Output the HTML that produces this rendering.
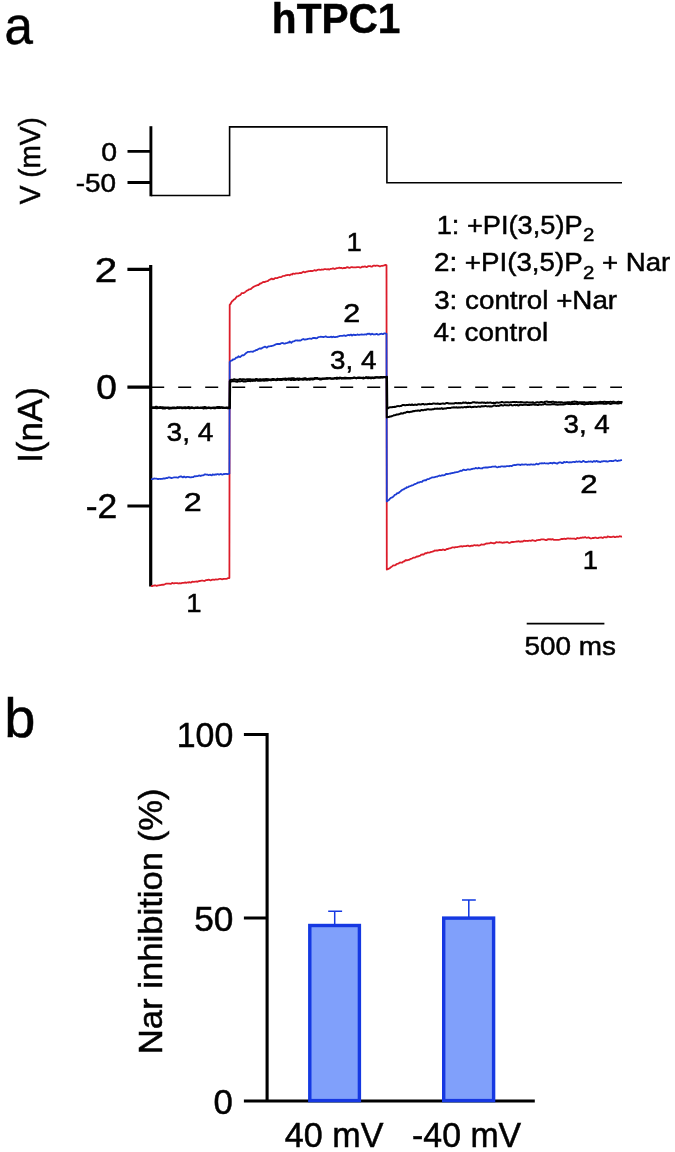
<!DOCTYPE html>
<html><head><meta charset="utf-8"><title>hTPC1</title>
<style>
html,body{margin:0;padding:0;background:#fff;}
svg{display:block;}
text{font-family:"Liberation Sans",Arial,Helvetica,sans-serif;fill:#000;stroke:#000;stroke-width:0.5;}
</style></head><body>
<svg width="675" height="1152" viewBox="0 0 675 1152">
<rect width="675" height="1152" fill="#fff"/>
<defs><filter id="soft" x="0" y="0" width="675" height="1152" filterUnits="userSpaceOnUse"><feGaussianBlur stdDeviation="0.4"/></filter></defs>
<g filter="url(#soft)">

<!-- voltage protocol -->
<g stroke="#000" fill="none">
<path d="M150.9 126.2V196.3" stroke-width="2.9"/>
<path d="M127.5 151.4H151M127.5 182.5H151" stroke-width="2.9"/>
<path d="M150.9 195.5H229.6V126.9H386.9V182.7H622" stroke-width="1.6"/>
</g>

<!-- current axis -->
<g stroke="#000" fill="none" stroke-width="3.2">
<path d="M150.7 265V586.5"/>
<path d="M127.4 269.3H151M127.4 387.2H151M127.4 506H151"/>
</g>
<path d="M151.2 387.2H622" stroke="#000" stroke-width="1.4" stroke-dasharray="13 14" fill="none"/>

<!-- traces -->
<g fill="none" stroke-linejoin="round" stroke-width="1.8">
<polyline stroke="#dc1f2b" points="151.0,586.2 151.8,586.1 152.6,586.0 153.4,585.7 154.2,585.5 155.0,585.4 155.8,585.4 156.6,585.9 157.4,585.7 158.2,585.3 159.0,585.3 159.8,585.2 160.6,585.1 161.4,584.8 162.2,584.7 163.0,584.9 163.8,584.6 164.6,584.3 165.4,584.0 166.2,583.6 167.0,583.6 167.8,583.7 168.6,583.6 169.4,583.7 170.2,583.8 171.0,583.8 171.8,583.1 172.6,583.0 173.4,583.4 174.2,583.4 175.0,583.1 175.8,583.1 176.6,583.2 177.4,583.1 178.2,583.5 179.0,583.3 179.8,583.2 180.6,583.4 181.4,583.3 182.2,582.9 183.0,582.9 183.8,582.9 184.6,582.6 185.4,582.4 186.2,582.9 187.0,582.5 187.8,582.3 188.6,582.6 189.4,582.1 190.2,582.4 191.0,582.6 191.8,581.9 192.6,581.7 193.4,581.9 194.2,581.8 195.0,581.7 195.8,581.6 196.6,581.5 197.4,581.8 198.2,581.4 199.0,581.1 199.8,581.0 200.6,580.9 201.4,580.7 202.2,580.5 203.0,580.7 203.8,580.8 204.6,581.0 205.4,580.5 206.2,580.0 207.0,580.2 207.8,579.9 208.6,579.7 209.4,579.9 210.2,580.3 211.0,580.3 211.8,579.9 212.6,579.6 213.4,579.6 214.2,579.8 215.0,579.7 215.8,579.3 216.6,579.5 217.4,579.5 218.2,579.3 219.0,579.0 219.8,578.8 220.6,578.9 221.4,579.1 222.2,579.3 223.0,579.0 223.8,578.9 224.6,578.9 225.4,578.9 226.2,578.8 227.0,578.6 227.8,578.2 228.6,578.1 229.4,578.0 229.7,304.8 230.5,304.0 231.3,302.5 232.1,301.3 232.9,300.7 233.7,299.8 234.5,299.3 235.3,298.8 236.1,297.6 236.9,296.3 237.7,296.3 238.5,296.0 239.3,295.4 240.1,295.1 240.9,294.3 241.7,293.1 242.5,293.2 243.3,293.2 244.1,292.7 244.9,292.2 245.7,291.6 246.5,290.9 247.3,290.5 248.1,290.2 248.9,289.3 249.7,289.3 250.5,289.2 251.3,288.7 252.1,287.9 252.9,287.3 253.7,286.7 254.5,286.3 255.3,286.0 256.1,285.7 256.9,285.3 257.7,285.0 258.5,285.0 259.3,284.2 260.1,283.5 260.9,283.5 261.7,283.0 262.5,282.4 263.3,282.0 264.1,282.1 264.9,282.0 265.7,281.5 266.5,281.3 267.3,281.2 268.1,280.9 268.9,280.0 269.7,279.7 270.5,279.5 271.3,278.7 272.1,278.7 272.9,279.3 273.7,279.2 274.5,278.5 275.3,278.0 276.1,278.2 276.9,278.1 277.7,277.8 278.5,277.5 279.3,277.2 280.1,277.1 280.9,277.1 281.7,276.7 282.5,276.2 283.3,276.0 284.1,275.8 284.9,275.8 285.7,275.4 286.5,275.1 287.3,275.1 288.1,274.8 288.9,275.0 289.7,275.3 290.5,274.6 291.3,274.3 292.1,274.5 292.9,273.7 293.7,273.6 294.5,273.9 295.3,273.7 296.1,273.4 296.9,273.3 297.7,273.3 298.5,273.3 299.3,273.2 300.1,272.8 300.9,273.1 301.7,272.8 302.5,272.2 303.3,271.7 304.1,272.0 304.9,272.4 305.7,272.0 306.5,271.7 307.3,271.5 308.1,271.4 308.9,271.2 309.7,271.1 310.5,270.9 311.3,271.0 312.1,271.1 312.9,270.8 313.7,270.5 314.5,270.1 315.3,270.5 316.1,270.6 316.9,270.2 317.7,269.9 318.5,269.7 319.3,269.6 320.1,269.9 320.9,269.8 321.7,269.5 322.5,269.6 323.3,269.6 324.1,269.2 324.9,269.2 325.7,269.2 326.5,269.3 327.3,269.3 328.1,269.1 328.9,269.6 329.7,269.3 330.5,268.9 331.3,268.8 332.1,268.7 332.9,268.4 333.7,268.5 334.5,269.0 335.3,268.8 336.1,268.4 336.9,268.1 337.7,268.2 338.5,268.0 339.3,267.6 340.1,268.0 340.9,267.9 341.7,267.9 342.5,268.4 343.3,268.2 344.1,267.9 344.9,268.2 345.7,267.9 346.5,267.4 347.3,267.1 348.1,267.3 348.9,267.8 349.7,267.9 350.5,267.5 351.3,267.1 352.1,267.1 352.9,267.3 353.7,267.3 354.5,267.3 355.3,267.4 356.1,267.3 356.9,267.2 357.7,267.2 358.5,267.2 359.3,267.2 360.1,267.6 360.9,267.6 361.7,267.1 362.5,266.6 363.3,266.8 364.1,266.7 364.9,266.3 365.7,266.7 366.5,267.1 367.3,266.9 368.1,266.2 368.9,266.1 369.7,266.1 370.5,266.2 371.3,266.7 372.1,266.6 372.9,265.9 373.7,265.6 374.5,265.7 375.3,266.0 376.1,265.7 376.9,265.7 377.7,265.7 378.5,265.8 379.3,266.3 380.1,266.3 380.9,266.0 381.7,265.8 382.5,265.8 383.3,265.6 384.1,265.4 384.9,265.1 385.7,264.8 386.5,265.2 386.8,569.5 387.6,569.3 388.4,568.9 389.2,568.4 390.0,568.0 390.8,567.2 391.6,566.7 392.4,566.1 393.2,565.3 394.0,565.3 394.8,565.3 395.6,565.0 396.4,564.3 397.2,563.8 398.0,563.7 398.8,563.4 399.6,562.6 400.4,562.5 401.2,562.7 402.0,562.7 402.8,562.0 403.6,561.4 404.4,561.3 405.2,560.5 406.0,560.0 406.8,560.4 407.6,560.2 408.4,559.9 409.2,559.8 410.0,559.2 410.8,558.8 411.6,558.6 412.4,558.2 413.2,557.7 414.0,557.7 414.8,557.7 415.6,557.3 416.4,556.6 417.2,556.4 418.0,556.5 418.8,556.1 419.6,555.9 420.4,555.4 421.2,554.7 422.0,554.5 422.8,554.5 423.6,554.6 424.4,553.9 425.2,553.2 426.0,553.4 426.8,553.1 427.6,552.5 428.4,552.7 429.2,552.7 430.0,552.4 430.8,552.0 431.6,551.9 432.4,551.7 433.2,551.4 434.0,551.1 434.8,550.5 435.6,550.6 436.4,550.5 437.2,550.5 438.0,550.6 438.8,550.1 439.6,550.0 440.4,550.0 441.2,550.1 442.0,550.0 442.8,549.5 443.6,549.6 444.4,550.0 445.2,550.1 446.0,549.5 446.8,549.0 447.6,549.0 448.4,548.9 449.2,548.3 450.0,548.3 450.8,548.2 451.6,547.8 452.4,547.4 453.2,547.3 454.0,547.5 454.8,547.5 455.6,547.2 456.4,547.2 457.2,547.2 458.0,546.8 458.8,546.7 459.6,546.5 460.4,546.4 461.2,546.2 462.0,546.5 462.8,546.6 463.6,546.1 464.4,546.1 465.2,546.1 466.0,546.2 466.8,545.9 467.6,545.6 468.4,545.7 469.2,546.2 470.0,546.4 470.8,545.8 471.6,545.6 472.4,545.9 473.2,545.7 474.0,545.1 474.8,545.2 475.6,545.5 476.4,545.3 477.2,545.2 478.0,545.4 478.8,545.7 479.6,545.3 480.4,545.1 481.2,544.5 482.0,544.5 482.8,544.7 483.6,544.5 484.4,544.6 485.2,544.1 486.0,543.6 486.8,543.5 487.6,543.5 488.4,543.3 489.2,543.3 490.0,543.1 490.8,542.6 491.6,542.8 492.4,543.1 493.2,543.1 494.0,543.5 494.8,543.2 495.6,542.5 496.4,542.2 497.2,542.3 498.0,542.3 498.8,542.5 499.6,542.2 500.4,542.4 501.2,542.5 502.0,542.6 502.8,542.8 503.6,542.5 504.4,542.5 505.2,542.4 506.0,542.3 506.8,542.1 507.6,542.1 508.4,542.7 509.2,543.0 510.0,542.8 510.8,542.4 511.6,542.0 512.4,542.0 513.2,542.0 514.0,541.9 514.8,541.8 515.6,541.7 516.4,541.5 517.2,541.5 518.0,541.4 518.8,541.2 519.6,541.7 520.4,541.8 521.2,541.4 522.0,541.5 522.8,541.5 523.6,540.9 524.4,540.6 525.2,540.9 526.0,541.0 526.8,540.8 527.6,541.0 528.4,540.9 529.2,540.7 530.0,540.6 530.8,540.8 531.6,540.6 532.4,540.1 533.2,540.4 534.0,540.6 534.8,540.8 535.6,541.0 536.4,540.4 537.2,540.1 538.0,540.2 538.8,539.8 539.6,540.0 540.4,539.9 541.2,539.3 542.0,539.4 542.8,539.4 543.6,539.3 544.4,539.7 545.2,539.8 546.0,540.1 546.8,540.0 547.6,539.3 548.4,539.2 549.2,539.3 550.0,539.1 550.8,539.5 551.6,539.6 552.4,539.1 553.2,539.4 554.0,539.9 554.8,539.8 555.6,539.8 556.4,539.9 557.2,539.8 558.0,539.8 558.8,539.8 559.6,539.7 560.4,539.5 561.2,539.0 562.0,538.9 562.8,539.0 563.6,538.9 564.4,538.6 565.2,538.8 566.0,539.1 566.8,538.6 567.6,538.3 568.4,538.4 569.2,538.7 570.0,538.5 570.8,538.6 571.6,538.6 572.4,538.7 573.2,538.7 574.0,538.5 574.8,538.7 575.6,539.2 576.4,538.7 577.2,538.0 578.0,538.1 578.8,538.3 579.6,538.1 580.4,537.7 581.2,537.8 582.0,537.6 582.8,537.5 583.6,537.6 584.4,537.3 585.2,537.1 586.0,537.5 586.8,537.8 587.6,537.7 588.4,537.4 589.2,537.6 590.0,538.2 590.8,538.5 591.6,538.3 592.4,538.0 593.2,538.0 594.0,538.0 594.8,537.7 595.6,537.5 596.4,537.9 597.2,538.1 598.0,538.1 598.8,537.7 599.6,537.6 600.4,537.5 601.2,537.3 602.0,537.8 602.8,538.0 603.6,537.4 604.4,537.1 605.2,537.2 606.0,537.5 606.8,537.3 607.6,536.5 608.4,536.6 609.2,536.9 610.0,537.0 610.8,537.1 611.6,537.0 612.4,536.8 613.2,536.5 614.0,536.7 614.8,537.2 615.6,537.1 616.4,536.7 617.2,536.6 618.0,536.8 618.8,536.6 619.6,536.2 620.4,536.4 621.2,536.6 622.0,536.5"/>
<polyline stroke="#1f3cd4" points="151.0,479.2 151.8,479.2 152.6,479.2 153.4,478.7 154.2,478.5 155.0,478.6 155.8,478.6 156.6,478.7 157.4,479.0 158.2,479.1 159.0,478.8 159.8,478.8 160.6,479.0 161.4,478.9 162.2,478.9 163.0,478.7 163.8,478.3 164.6,478.6 165.4,478.3 166.2,478.0 167.0,478.1 167.8,477.8 168.6,477.4 169.4,477.3 170.2,477.6 171.0,478.0 171.8,478.0 172.6,477.8 173.4,477.5 174.2,477.3 175.0,477.3 175.8,477.3 176.6,477.3 177.4,477.7 178.2,477.6 179.0,476.8 179.8,476.6 180.6,476.5 181.4,476.5 182.2,477.1 183.0,477.4 183.8,476.7 184.6,476.6 185.4,477.4 186.2,477.3 187.0,476.9 187.8,476.8 188.6,477.0 189.4,477.1 190.2,477.4 191.0,477.3 191.8,477.1 192.6,477.1 193.4,477.0 194.2,476.4 195.0,476.2 195.8,476.3 196.6,476.1 197.4,476.1 198.2,475.9 199.0,475.5 199.8,475.6 200.6,476.0 201.4,475.6 202.2,475.4 203.0,475.4 203.8,475.2 204.6,474.4 205.4,474.3 206.2,474.7 207.0,474.5 207.8,474.7 208.6,475.2 209.4,475.0 210.2,474.6 211.0,475.2 211.8,475.3 212.6,474.5 213.4,474.6 214.2,474.9 215.0,474.5 215.8,474.5 216.6,474.6 217.4,474.1 218.2,474.2 219.0,474.6 219.8,474.3 220.6,474.0 221.4,474.1 222.2,474.7 223.0,474.5 223.8,473.9 224.6,474.1 225.4,473.8 226.2,473.9 227.0,474.0 227.8,474.1 228.6,473.9 229.4,473.4 229.7,362.1 230.5,361.0 231.3,360.6 232.1,360.3 232.9,359.4 233.7,359.5 234.5,359.2 235.3,358.6 236.1,357.7 236.9,357.5 237.7,357.4 238.5,356.3 239.3,356.7 240.1,357.1 240.9,356.4 241.7,355.6 242.5,355.2 243.3,355.4 244.1,354.9 244.9,354.2 245.7,353.3 246.5,352.9 247.3,352.3 248.1,351.8 248.9,351.9 249.7,351.8 250.5,351.7 251.3,351.6 252.1,351.7 252.9,351.8 253.7,351.2 254.5,351.0 255.3,350.6 256.1,350.0 256.9,350.1 257.7,349.5 258.5,349.0 259.3,348.7 260.1,348.4 260.9,348.8 261.7,348.4 262.5,347.7 263.3,347.5 264.1,347.0 264.9,346.7 265.7,346.9 266.5,347.7 267.3,347.4 268.1,346.5 268.9,346.4 269.7,346.3 270.5,346.2 271.3,346.1 272.1,345.8 272.9,345.7 273.7,345.4 274.5,345.0 275.3,344.6 276.1,344.2 276.9,344.0 277.7,343.9 278.5,344.0 279.3,343.9 280.1,344.0 280.9,343.4 281.7,343.1 282.5,343.0 283.3,343.2 284.1,343.7 284.9,343.6 285.7,343.2 286.5,343.2 287.3,342.9 288.1,342.5 288.9,342.6 289.7,341.5 290.5,342.1 291.3,342.8 292.1,341.9 292.9,341.4 293.7,341.3 294.5,341.1 295.3,340.6 296.1,340.3 296.9,340.5 297.7,340.5 298.5,340.6 299.3,340.5 300.1,340.6 300.9,340.4 301.7,339.7 302.5,339.3 303.3,339.0 304.1,339.5 304.9,339.6 305.7,339.3 306.5,339.4 307.3,339.1 308.1,338.8 308.9,338.7 309.7,338.5 310.5,338.7 311.3,338.9 312.1,338.4 312.9,337.9 313.7,338.0 314.5,338.0 315.3,337.9 316.1,338.4 316.9,338.2 317.7,337.5 318.5,337.2 319.3,337.0 320.1,336.8 320.9,336.7 321.7,336.8 322.5,336.8 323.3,337.1 324.1,336.9 324.9,336.7 325.7,336.4 326.5,336.8 327.3,337.2 328.1,337.1 328.9,337.2 329.7,337.2 330.5,336.8 331.3,336.6 332.1,337.3 332.9,336.9 333.7,336.7 334.5,337.2 335.3,337.2 336.1,336.8 336.9,337.0 337.7,336.6 338.5,336.3 339.3,336.2 340.1,335.8 340.9,335.8 341.7,335.8 342.5,335.9 343.3,335.7 344.1,335.3 344.9,335.6 345.7,336.0 346.5,335.7 347.3,335.2 348.1,335.0 348.9,335.1 349.7,335.3 350.5,334.6 351.3,334.6 352.1,335.6 352.9,335.1 353.7,334.6 354.5,335.0 355.3,334.9 356.1,335.0 356.9,334.8 357.7,334.4 358.5,334.9 359.3,334.8 360.1,334.6 360.9,334.6 361.7,334.4 362.5,334.7 363.3,334.7 364.1,334.6 364.9,334.4 365.7,334.3 366.5,334.6 367.3,333.8 368.1,333.7 368.9,334.0 369.7,333.7 370.5,334.5 371.3,334.4 372.1,333.7 372.9,334.2 373.7,334.5 374.5,334.4 375.3,334.4 376.1,333.9 376.9,334.0 377.7,334.5 378.5,334.6 379.3,334.4 380.1,334.0 380.9,333.9 381.7,333.7 382.5,334.1 383.3,334.1 384.1,333.3 384.9,333.3 385.7,333.6 386.5,333.8 386.8,501.4 387.6,500.9 388.4,500.3 389.2,499.8 390.0,498.6 390.8,497.9 391.6,497.7 392.4,497.2 393.2,496.7 394.0,495.8 394.8,494.8 395.6,494.7 396.4,494.3 397.2,493.1 398.0,493.1 398.8,492.8 399.6,491.9 400.4,491.4 401.2,490.7 402.0,490.0 402.8,489.7 403.6,489.5 404.4,488.8 405.2,488.3 406.0,488.1 406.8,487.2 407.6,487.3 408.4,487.0 409.2,486.3 410.0,486.2 410.8,486.0 411.6,485.4 412.4,485.3 413.2,485.1 414.0,484.6 414.8,484.1 415.6,483.8 416.4,483.5 417.2,483.1 418.0,482.4 418.8,482.6 419.6,482.4 420.4,481.8 421.2,482.0 422.0,481.8 422.8,480.9 423.6,480.6 424.4,480.3 425.2,480.1 426.0,480.3 426.8,479.6 427.6,479.1 428.4,479.1 429.2,478.8 430.0,478.3 430.8,478.0 431.6,477.6 432.4,477.3 433.2,477.4 434.0,477.3 434.8,477.2 435.6,476.8 436.4,476.7 437.2,476.7 438.0,476.1 438.8,475.9 439.6,475.5 440.4,475.8 441.2,475.6 442.0,475.2 442.8,475.4 443.6,475.4 444.4,475.2 445.2,474.7 446.0,474.0 446.8,473.9 447.6,474.1 448.4,473.8 449.2,473.7 450.0,473.5 450.8,473.5 451.6,473.2 452.4,473.0 453.2,472.9 454.0,472.8 454.8,472.4 455.6,472.4 456.4,472.2 457.2,472.1 458.0,471.9 458.8,471.5 459.6,471.3 460.4,470.7 461.2,471.0 462.0,470.7 462.8,470.0 463.6,469.7 464.4,469.9 465.2,470.2 466.0,470.2 466.8,469.8 467.6,469.4 468.4,469.3 469.2,469.6 470.0,469.7 470.8,469.3 471.6,469.0 472.4,469.0 473.2,468.7 474.0,468.6 474.8,468.6 475.6,468.0 476.4,468.1 477.2,468.5 478.0,468.3 478.8,467.7 479.6,468.1 480.4,468.4 481.2,468.3 482.0,468.5 482.8,467.9 483.6,467.7 484.4,467.6 485.2,467.5 486.0,467.5 486.8,467.4 487.6,467.5 488.4,467.4 489.2,467.1 490.0,467.1 490.8,467.1 491.6,466.9 492.4,466.7 493.2,466.7 494.0,466.7 494.8,466.5 495.6,466.5 496.4,467.0 497.2,467.3 498.0,467.1 498.8,466.7 499.6,466.8 500.4,466.9 501.2,466.3 502.0,466.3 502.8,466.4 503.6,466.6 504.4,466.4 505.2,466.6 506.0,466.4 506.8,466.2 507.6,466.1 508.4,466.2 509.2,466.3 510.0,465.8 510.8,465.9 511.6,466.2 512.4,465.6 513.2,465.2 514.0,465.1 514.8,465.0 515.6,465.1 516.4,464.8 517.2,464.5 518.0,464.7 518.8,464.5 519.6,464.7 520.4,465.1 521.2,464.5 522.0,464.3 522.8,464.6 523.6,464.7 524.4,464.6 525.2,464.4 526.0,464.4 526.8,464.6 527.6,464.8 528.4,464.6 529.2,464.7 530.0,464.8 530.8,464.3 531.6,464.3 532.4,464.7 533.2,464.5 534.0,464.6 534.8,464.7 535.6,464.3 536.4,463.7 537.2,464.0 538.0,464.4 538.8,463.9 539.6,463.4 540.4,463.3 541.2,463.5 542.0,463.2 542.8,463.3 543.6,463.3 544.4,463.0 545.2,463.3 546.0,463.5 546.8,463.3 547.6,463.5 548.4,463.6 549.2,463.2 550.0,463.1 550.8,462.8 551.6,463.2 552.4,463.5 553.2,462.8 554.0,462.6 554.8,463.0 555.6,463.1 556.4,463.4 557.2,463.7 558.0,463.0 558.8,462.7 559.6,462.4 560.4,462.4 561.2,462.7 562.0,463.1 562.8,463.1 563.6,462.1 564.4,461.9 565.2,462.4 566.0,462.2 566.8,461.9 567.6,462.2 568.4,462.4 569.2,462.5 570.0,462.2 570.8,462.3 571.6,462.4 572.4,462.0 573.2,461.8 574.0,461.8 574.8,462.1 575.6,461.8 576.4,461.4 577.2,461.8 578.0,461.7 578.8,461.5 579.6,461.4 580.4,461.7 581.2,462.1 582.0,461.9 582.8,461.2 583.6,460.9 584.4,461.4 585.2,461.9 586.0,462.1 586.8,461.9 587.6,461.9 588.4,461.5 589.2,461.6 590.0,461.6 590.8,461.3 591.6,461.5 592.4,462.1 593.2,461.6 594.0,461.0 594.8,461.5 595.6,461.5 596.4,460.9 597.2,461.2 598.0,461.8 598.8,461.5 599.6,461.9 600.4,462.1 601.2,461.5 602.0,461.5 602.8,461.4 603.6,461.1 604.4,461.2 605.2,461.3 606.0,461.1 606.8,461.5 607.6,461.6 608.4,461.3 609.2,461.2 610.0,460.8 610.8,461.0 611.6,460.9 612.4,461.2 613.2,461.1 614.0,460.7 614.8,460.5 615.6,460.2 616.4,460.6 617.2,461.0 618.0,460.9 618.8,460.5 619.6,460.7 620.4,460.4 621.2,460.2 622.0,460.1"/>
<polyline stroke="#000" stroke-width="2" points="151.0,407.2 151.8,407.2 152.6,407.2 153.4,407.2 154.2,407.4 155.0,407.1 155.8,406.8 156.6,406.7 157.4,407.1 158.2,407.5 159.0,407.5 159.8,407.1 160.6,407.1 161.4,407.3 162.2,407.3 163.0,407.3 163.8,407.4 164.6,407.4 165.4,407.5 166.2,407.7 167.0,407.5 167.8,407.5 168.6,407.5 169.4,407.7 170.2,407.8 171.0,407.7 171.8,407.7 172.6,407.5 173.4,407.5 174.2,407.6 175.0,407.6 175.8,407.8 176.6,407.4 177.4,407.1 178.2,407.3 179.0,407.4 179.8,407.2 180.6,407.4 181.4,407.5 182.2,407.5 183.0,407.5 183.8,407.4 184.6,407.3 185.4,407.3 186.2,407.5 187.0,407.5 187.8,407.2 188.6,407.1 189.4,407.2 190.2,407.4 191.0,407.4 191.8,407.2 192.6,407.4 193.4,408.0 194.2,407.9 195.0,407.6 195.8,407.7 196.6,407.4 197.4,407.3 198.2,407.4 199.0,407.8 199.8,407.8 200.6,407.5 201.4,407.4 202.2,407.4 203.0,407.3 203.8,407.2 204.6,407.1 205.4,407.1 206.2,407.4 207.0,407.7 207.8,407.8 208.6,407.5 209.4,407.5 210.2,407.7 211.0,407.7 211.8,407.8 212.6,407.6 213.4,407.5 214.2,407.5 215.0,407.5 215.8,407.4 216.6,407.3 217.4,407.0 218.2,406.9 219.0,407.0 219.8,407.1 220.6,407.5 221.4,407.2 222.2,407.3 223.0,407.6 223.8,407.6 224.6,407.7 225.4,408.0 226.2,407.5 227.0,407.4 227.8,407.6 228.6,407.5 229.4,407.6 229.7,381.2 230.5,381.4 231.3,381.5 232.1,381.3 232.9,381.3 233.7,381.3 234.5,381.2 235.3,381.4 236.1,381.5 236.9,381.7 237.7,381.7 238.5,381.2 239.3,381.3 240.1,381.4 240.9,381.2 241.7,380.8 242.5,380.9 243.3,381.6 244.1,381.4 244.9,381.3 245.7,381.4 246.5,381.3 247.3,381.1 248.1,381.0 248.9,380.8 249.7,381.1 250.5,381.2 251.3,380.8 252.1,380.8 252.9,380.9 253.7,380.6 254.5,380.7 255.3,380.8 256.1,380.4 256.9,380.2 257.7,380.8 258.5,380.7 259.3,380.5 260.1,380.7 260.9,380.7 261.7,380.5 262.5,380.3 263.3,380.5 264.1,380.7 264.9,380.6 265.7,380.3 266.5,380.4 267.3,380.6 268.1,380.4 268.9,380.1 269.7,380.1 270.5,380.2 271.3,380.2 272.1,380.0 272.9,379.9 273.7,380.0 274.5,379.7 275.3,379.9 276.1,380.2 276.9,380.1 277.7,380.1 278.5,379.9 279.3,379.7 280.1,380.0 280.9,380.0 281.7,380.1 282.5,379.9 283.3,379.4 284.1,379.6 284.9,379.7 285.7,379.9 286.5,379.9 287.3,379.6 288.1,379.6 288.9,379.7 289.7,379.3 290.5,379.9 291.3,380.0 292.1,379.6 292.9,379.7 293.7,380.0 294.5,380.0 295.3,379.9 296.1,379.7 296.9,379.2 297.7,379.6 298.5,380.0 299.3,379.8 300.1,379.6 300.9,379.6 301.7,379.5 302.5,379.7 303.3,379.8 304.1,379.6 304.9,379.6 305.7,379.6 306.5,379.7 307.3,379.7 308.1,379.4 308.9,379.4 309.7,379.8 310.5,379.6 311.3,379.1 312.1,379.4 312.9,379.5 313.7,379.3 314.5,378.9 315.3,378.8 316.1,378.8 316.9,378.5 317.7,378.8 318.5,378.9 319.3,379.0 320.1,379.6 320.9,379.6 321.7,379.2 322.5,379.0 323.3,378.7 324.1,378.7 324.9,378.8 325.7,378.8 326.5,378.7 327.3,378.8 328.1,378.6 328.9,378.4 329.7,378.2 330.5,378.5 331.3,378.7 332.1,378.7 332.9,378.8 333.7,378.6 334.5,378.5 335.3,378.4 336.1,378.5 336.9,378.9 337.7,378.6 338.5,378.3 339.3,378.4 340.1,378.3 340.9,378.0 341.7,378.6 342.5,378.6 343.3,378.4 344.1,378.6 344.9,378.4 345.7,378.3 346.5,378.4 347.3,378.0 348.1,378.2 348.9,378.2 349.7,378.3 350.5,378.4 351.3,378.3 352.1,378.2 352.9,378.0 353.7,377.9 354.5,377.7 355.3,377.9 356.1,378.2 356.9,378.0 357.7,378.0 358.5,378.1 359.3,377.9 360.1,378.0 360.9,378.1 361.7,377.9 362.5,378.1 363.3,378.5 364.1,378.2 364.9,377.9 365.7,377.7 366.5,377.6 367.3,378.0 368.1,378.2 368.9,377.9 369.7,377.9 370.5,378.3 371.3,378.3 372.1,377.8 372.9,378.1 373.7,378.2 374.5,378.0 375.3,377.8 376.1,377.4 376.9,377.3 377.7,377.3 378.5,377.5 379.3,377.6 380.1,377.7 380.9,377.6 381.7,377.5 382.5,377.2 383.3,376.9 384.1,376.9 384.9,377.1 385.7,377.2 386.5,377.2 386.8,417.5 387.6,417.0 388.4,416.9 389.2,416.9 390.0,416.5 390.8,416.5 391.6,416.3 392.4,415.9 393.2,415.6 394.0,415.2 394.8,415.2 395.6,415.1 396.4,414.5 397.2,414.4 398.0,414.5 398.8,414.3 399.6,414.1 400.4,413.6 401.2,413.2 402.0,413.5 402.8,413.6 403.6,413.0 404.4,412.8 405.2,412.8 406.0,412.4 406.8,411.9 407.6,411.8 408.4,412.0 409.2,412.2 410.0,411.9 410.8,411.8 411.6,411.8 412.4,411.3 413.2,411.1 414.0,411.2 414.8,410.9 415.6,410.8 416.4,410.8 417.2,410.8 418.0,410.5 418.8,410.5 419.6,410.9 420.4,410.7 421.2,410.0 422.0,410.0 422.8,410.2 423.6,410.2 424.4,409.8 425.2,409.8 426.0,409.9 426.8,409.4 427.6,409.3 428.4,409.3 429.2,409.4 430.0,409.5 430.8,409.4 431.6,409.5 432.4,409.3 433.2,409.3 434.0,409.0 434.8,408.6 435.6,408.8 436.4,408.7 437.2,408.6 438.0,408.7 438.8,408.7 439.6,408.6 440.4,408.8 441.2,408.3 442.0,408.3 442.8,408.9 443.6,408.8 444.4,408.4 445.2,408.4 446.0,408.6 446.8,408.1 447.6,407.9 448.4,407.9 449.2,407.9 450.0,407.9 450.8,407.9 451.6,407.6 452.4,407.6 453.2,407.5 454.0,407.3 454.8,407.4 455.6,407.5 456.4,407.3 457.2,407.6 458.0,407.7 458.8,407.3 459.6,407.4 460.4,407.4 461.2,407.3 462.0,407.3 462.8,407.4 463.6,407.3 464.4,407.1 465.2,407.1 466.0,407.4 466.8,406.9 467.6,406.7 468.4,407.0 469.2,406.8 470.0,406.6 470.8,407.1 471.6,407.2 472.4,407.0 473.2,407.1 474.0,406.8 474.8,406.7 475.6,406.8 476.4,406.9 477.2,406.8 478.0,406.6 478.8,406.6 479.6,406.7 480.4,406.8 481.2,406.3 482.0,406.1 482.8,406.4 483.6,406.3 484.4,406.2 485.2,406.1 486.0,406.1 486.8,406.3 487.6,406.4 488.4,406.2 489.2,406.4 490.0,406.3 490.8,406.5 491.6,406.6 492.4,406.1 493.2,405.9 494.0,405.4 494.8,405.4 495.6,405.9 496.4,406.1 497.2,405.8 498.0,405.8 498.8,405.9 499.6,405.7 500.4,405.2 501.2,405.0 502.0,405.3 502.8,405.4 503.6,405.4 504.4,405.1 505.2,405.1 506.0,405.3 506.8,405.3 507.6,405.3 508.4,405.4 509.2,405.2 510.0,404.9 510.8,404.7 511.6,405.2 512.4,405.4 513.2,405.3 514.0,405.1 514.8,405.1 515.6,405.2 516.4,405.1 517.2,405.0 518.0,405.4 518.8,405.4 519.6,405.0 520.4,404.7 521.2,404.8 522.0,404.9 522.8,405.1 523.6,404.9 524.4,404.7 525.2,404.7 526.0,404.6 526.8,404.8 527.6,405.0 528.4,405.1 529.2,405.0 530.0,404.7 530.8,404.8 531.6,404.8 532.4,404.4 533.2,404.3 534.0,404.6 534.8,404.8 535.6,404.7 536.4,404.7 537.2,404.9 538.0,405.0 538.8,404.7 539.6,404.4 540.4,404.6 541.2,404.8 542.0,404.6 542.8,404.5 543.6,404.4 544.4,404.1 545.2,404.0 546.0,404.3 546.8,404.4 547.6,404.5 548.4,404.5 549.2,404.4 550.0,404.5 550.8,404.5 551.6,404.3 552.4,404.1 553.2,404.2 554.0,404.1 554.8,404.2 555.6,404.6 556.4,404.5 557.2,404.7 558.0,404.7 558.8,404.4 559.6,404.4 560.4,404.3 561.2,404.4 562.0,404.4 562.8,404.5 563.6,404.5 564.4,404.3 565.2,404.2 566.0,403.8 566.8,403.8 567.6,403.8 568.4,404.0 569.2,404.1 570.0,404.1 570.8,404.2 571.6,404.1 572.4,404.0 573.2,403.8 574.0,403.9 574.8,403.9 575.6,403.8 576.4,403.7 577.2,404.2 578.0,404.1 578.8,403.6 579.6,403.6 580.4,403.4 581.2,403.8 582.0,404.0 582.8,404.0 583.6,404.2 584.4,404.5 585.2,404.2 586.0,403.9 586.8,404.1 587.6,403.9 588.4,403.9 589.2,403.8 590.0,403.8 590.8,404.0 591.6,403.8 592.4,403.9 593.2,403.9 594.0,403.7 594.8,403.6 595.6,403.7 596.4,403.7 597.2,403.6 598.0,403.4 598.8,403.4 599.6,403.5 600.4,403.5 601.2,403.6 602.0,403.4 602.8,403.3 603.6,403.8 604.4,403.8 605.2,403.7 606.0,403.8 606.8,403.7 607.6,403.2 608.4,403.2 609.2,403.4 610.0,403.8 610.8,403.9 611.6,403.7 612.4,403.4 613.2,403.2 614.0,403.2 614.8,403.2 615.6,403.2 616.4,403.3 617.2,403.6 618.0,403.5 618.8,403.4 619.6,403.2 620.4,403.0 621.2,403.1 622.0,403.5"/>
<polyline stroke="#000" stroke-width="2" transform="translate(0.5,0)" points="151.0,408.0 151.8,408.0 152.6,408.0 153.4,408.0 154.2,407.9 155.0,408.0 155.8,408.2 156.6,408.2 157.4,408.1 158.2,408.0 159.0,408.1 159.8,408.1 160.6,408.0 161.4,408.1 162.2,408.5 163.0,408.5 163.8,408.6 164.6,408.5 165.4,408.1 166.2,408.0 167.0,407.9 167.8,408.4 168.6,408.7 169.4,408.5 170.2,408.5 171.0,408.4 171.8,408.2 172.6,408.2 173.4,408.3 174.2,408.2 175.0,408.3 175.8,408.2 176.6,408.1 177.4,407.9 178.2,407.8 179.0,408.0 179.8,407.8 180.6,407.6 181.4,408.2 182.2,408.3 183.0,407.8 183.8,407.9 184.6,408.2 185.4,408.2 186.2,408.0 187.0,408.1 187.8,407.9 188.6,408.3 189.4,408.4 190.2,407.9 191.0,407.9 191.8,407.9 192.6,408.1 193.4,408.2 194.2,408.2 195.0,407.8 195.8,407.9 196.6,408.1 197.4,408.1 198.2,408.0 199.0,407.9 199.8,407.9 200.6,408.1 201.4,408.1 202.2,408.1 203.0,408.5 203.8,408.3 204.6,408.2 205.4,408.2 206.2,408.4 207.0,408.1 207.8,407.8 208.6,408.0 209.4,408.0 210.2,408.4 211.0,408.2 211.8,408.1 212.6,407.9 213.4,408.2 214.2,408.4 215.0,408.2 215.8,407.9 216.6,407.6 217.4,408.0 218.2,408.1 219.0,407.8 219.8,407.9 220.6,407.8 221.4,407.8 222.2,408.1 223.0,407.9 223.8,407.9 224.6,407.9 225.4,407.8 226.2,407.9 227.0,408.2 227.8,408.2 228.6,408.2 229.4,408.2 229.7,380.1 230.5,379.9 231.3,379.7 232.1,380.1 232.9,379.6 233.7,379.2 234.5,379.6 235.3,379.7 236.1,379.8 236.9,380.0 237.7,379.7 238.5,379.5 239.3,379.1 240.1,379.2 240.9,379.4 241.7,379.3 242.5,379.5 243.3,379.2 244.1,379.4 244.9,379.7 245.7,379.6 246.5,379.3 247.3,379.2 248.1,379.2 248.9,379.2 249.7,379.2 250.5,379.4 251.3,379.6 252.1,379.5 252.9,379.4 253.7,379.6 254.5,379.7 255.3,379.0 256.1,378.9 256.9,379.3 257.7,379.6 258.5,379.4 259.3,379.2 260.1,379.2 260.9,379.4 261.7,379.4 262.5,379.2 263.3,379.2 264.1,379.3 264.9,379.2 265.7,378.9 266.5,379.1 267.3,379.2 268.1,379.2 268.9,379.4 269.7,379.4 270.5,379.5 271.3,379.2 272.1,379.0 272.9,378.9 273.7,379.3 274.5,379.5 275.3,379.5 276.1,379.3 276.9,378.7 277.7,378.9 278.5,379.1 279.3,378.9 280.1,378.9 280.9,379.0 281.7,379.1 282.5,378.7 283.3,378.7 284.1,378.8 284.9,378.5 285.7,378.8 286.5,379.1 287.3,378.7 288.1,378.4 288.9,378.4 289.7,378.6 290.5,378.6 291.3,378.3 292.1,378.2 292.9,378.2 293.7,378.5 294.5,378.8 295.3,378.9 296.1,378.7 296.9,378.5 297.7,378.7 298.5,378.6 299.3,378.6 300.1,379.0 300.9,379.0 301.7,378.8 302.5,378.6 303.3,378.5 304.1,378.3 304.9,378.2 305.7,378.6 306.5,379.0 307.3,379.0 308.1,378.8 308.9,378.6 309.7,378.4 310.5,378.4 311.3,378.5 312.1,378.4 312.9,378.4 313.7,378.3 314.5,378.0 315.3,378.1 316.1,378.1 316.9,378.0 317.7,378.4 318.5,378.7 319.3,378.4 320.1,378.6 320.9,378.8 321.7,378.5 322.5,378.6 323.3,378.7 324.1,378.4 324.9,378.4 325.7,378.2 326.5,378.0 327.3,378.2 328.1,378.3 328.9,378.3 329.7,378.1 330.5,378.4 331.3,378.5 332.1,378.5 332.9,378.5 333.7,378.3 334.5,378.0 335.3,378.0 336.1,377.8 336.9,377.7 337.7,378.0 338.5,378.1 339.3,377.6 340.1,377.7 340.9,378.2 341.7,378.1 342.5,378.0 343.3,378.0 344.1,377.7 344.9,377.7 345.7,377.8 346.5,378.2 347.3,378.2 348.1,378.1 348.9,378.2 349.7,377.9 350.5,378.0 351.3,378.1 352.1,377.9 352.9,377.6 353.7,377.6 354.5,377.7 355.3,378.0 356.1,378.2 356.9,377.7 357.7,377.5 358.5,377.4 359.3,377.4 360.1,377.6 360.9,377.8 361.7,377.7 362.5,377.7 363.3,377.6 364.1,377.9 364.9,377.7 365.7,377.2 366.5,377.3 367.3,377.4 368.1,377.2 368.9,377.5 369.7,377.5 370.5,377.5 371.3,377.5 372.1,377.5 372.9,377.8 373.7,377.4 374.5,377.3 375.3,377.2 376.1,377.3 376.9,377.6 377.7,377.4 378.5,377.4 379.3,377.3 380.1,377.0 380.9,377.0 381.7,377.4 382.5,377.6 383.3,377.3 384.1,377.1 384.9,377.2 385.7,377.0 386.5,376.7 386.8,408.2 387.6,408.3 388.4,407.7 389.2,407.3 390.0,407.3 390.8,407.3 391.6,407.2 392.4,406.9 393.2,406.9 394.0,406.8 394.8,406.9 395.6,406.6 396.4,406.3 397.2,406.1 398.0,406.1 398.8,406.3 399.6,406.1 400.4,406.0 401.2,405.6 402.0,405.0 402.8,405.0 403.6,405.1 404.4,405.2 405.2,405.2 406.0,405.1 406.8,405.0 407.6,405.0 408.4,404.8 409.2,404.6 410.0,405.0 410.8,404.9 411.6,404.4 412.4,405.0 413.2,405.1 414.0,404.7 414.8,404.6 415.6,404.8 416.4,404.9 417.2,404.5 418.0,404.3 418.8,404.3 419.6,404.4 420.4,404.5 421.2,404.3 422.0,403.9 422.8,404.0 423.6,404.4 424.4,404.4 425.2,404.2 426.0,404.4 426.8,404.2 427.6,404.0 428.4,404.0 429.2,403.8 430.0,403.9 430.8,404.1 431.6,404.0 432.4,403.5 433.2,403.4 434.0,403.6 434.8,403.7 435.6,403.8 436.4,403.7 437.2,403.5 438.0,403.8 438.8,403.9 439.6,403.8 440.4,403.9 441.2,403.6 442.0,403.4 442.8,403.5 443.6,403.7 444.4,403.7 445.2,403.4 446.0,402.9 446.8,403.0 447.6,403.2 448.4,403.5 449.2,403.6 450.0,403.5 450.8,403.4 451.6,403.6 452.4,403.6 453.2,403.5 454.0,403.4 454.8,403.0 455.6,402.9 456.4,403.3 457.2,403.2 458.0,403.1 458.8,403.2 459.6,403.0 460.4,403.3 461.2,403.2 462.0,402.9 462.8,402.5 463.6,402.7 464.4,402.8 465.2,402.5 466.0,402.9 466.8,403.3 467.6,402.8 468.4,402.8 469.2,403.2 470.0,402.9 470.8,402.9 471.6,402.6 472.4,402.3 473.2,402.3 474.0,402.3 474.8,402.6 475.6,402.7 476.4,402.5 477.2,402.6 478.0,402.8 478.8,402.8 479.6,402.8 480.4,402.8 481.2,402.5 482.0,402.6 482.8,402.7 483.6,402.6 484.4,402.7 485.2,403.1 486.0,402.9 486.8,402.5 487.6,402.8 488.4,402.8 489.2,402.6 490.0,402.5 490.8,402.8 491.6,403.0 492.4,403.0 493.2,402.8 494.0,402.9 494.8,403.0 495.6,402.6 496.4,402.5 497.2,402.6 498.0,402.8 498.8,402.6 499.6,402.4 500.4,402.3 501.2,402.0 502.0,402.1 502.8,402.4 503.6,402.4 504.4,402.5 505.2,402.3 506.0,402.3 506.8,402.2 507.6,402.3 508.4,402.4 509.2,402.4 510.0,402.2 510.8,402.3 511.6,402.1 512.4,401.9 513.2,402.0 514.0,402.1 514.8,402.2 515.6,402.0 516.4,402.1 517.2,402.3 518.0,402.2 518.8,402.3 519.6,402.2 520.4,402.0 521.2,402.2 522.0,402.3 522.8,402.4 523.6,402.5 524.4,402.6 525.2,402.5 526.0,402.2 526.8,402.2 527.6,402.4 528.4,402.5 529.2,402.6 530.0,402.4 530.8,402.5 531.6,402.5 532.4,402.3 533.2,402.6 534.0,402.9 534.8,402.7 535.6,402.4 536.4,402.3 537.2,402.3 538.0,402.4 538.8,402.4 539.6,402.2 540.4,402.1 541.2,402.1 542.0,402.2 542.8,402.4 543.6,402.3 544.4,401.8 545.2,401.7 546.0,401.6 546.8,401.6 547.6,402.0 548.4,402.1 549.2,401.9 550.0,401.9 550.8,402.0 551.6,401.8 552.4,401.7 553.2,401.8 554.0,402.2 554.8,402.2 555.6,402.1 556.4,402.5 557.2,402.4 558.0,402.2 558.8,402.2 559.6,402.2 560.4,402.3 561.2,402.3 562.0,402.6 562.8,402.7 563.6,402.7 564.4,402.5 565.2,402.5 566.0,402.4 566.8,402.2 567.6,402.2 568.4,402.3 569.2,402.2 570.0,402.6 570.8,402.5 571.6,401.8 572.4,401.9 573.2,401.7 574.0,401.6 574.8,401.7 575.6,401.7 576.4,402.0 577.2,402.1 578.0,402.4 578.8,402.3 579.6,402.3 580.4,402.3 581.2,402.2 582.0,402.3 582.8,402.3 583.6,402.1 584.4,402.5 585.2,402.6 586.0,402.4 586.8,402.4 587.6,402.5 588.4,402.3 589.2,402.1 590.0,402.1 590.8,402.2 591.6,402.3 592.4,402.5 593.2,402.6 594.0,402.2 594.8,402.2 595.6,402.2 596.4,402.2 597.2,402.3 598.0,402.3 598.8,401.9 599.6,401.8 600.4,402.0 601.2,402.0 602.0,402.1 602.8,402.0 603.6,401.8 604.4,401.8 605.2,401.9 606.0,401.9 606.8,402.0 607.6,401.9 608.4,401.9 609.2,401.9 610.0,401.7 610.8,401.9 611.6,402.1 612.4,401.8 613.2,401.6 614.0,401.9 614.8,402.1 615.6,402.3 616.4,402.3 617.2,401.9 618.0,401.7 618.8,402.0 619.6,402.1 620.4,402.1 621.2,402.0 622.0,402.2"/>
</g>

<!-- scale bar -->
<path d="M526.7 623.6H604.4" stroke="#000" stroke-width="1.6"/>

<!-- panel b -->
<g stroke="#000" fill="none" stroke-width="3.1">
<path d="M267.1 733V1101"/>
<path d="M243.9 734.5H267M243.9 918H267"/>
<path d="M243.9 1101H534.8"/>
</g>
<g stroke="#1238e2" fill="none" stroke-width="1.5">
<path d="M334.7 911.2V925M328.2 911.2H342.1"/>
<path d="M468.8 900V918M462 900H475.8"/>
</g>
<g stroke="#1238e2" fill="#80a0fb" stroke-width="3.4">
<rect x="309.8" y="925.5" width="49.6" height="175.1"/>
<rect x="443.7" y="918.1" width="49.9" height="182.5"/>
</g>

<!-- all text -->
<g opacity="0.999">
<text transform="translate(4.43,44.06) scale(0.9552,1)" font-size="53.52">a</text>
<text transform="translate(271.86,33.10) scale(0.9671,1)" font-size="42" font-weight="bold">hTPC1</text>
<text transform="translate(4.16,737.25) scale(1.0138,1)" font-size="55.24">b</text>
<text transform="translate(101.26,160.80) scale(1.0748,1)" font-size="26.5">0</text>
<text transform="translate(75.64,191.50) scale(1.0552,1)" font-size="26.5">-50</text>
<text transform="translate(40.20,204.34) rotate(-90) scale(0.9735,1)" font-size="28.8">V (mV)</text>
<text transform="translate(436.66,234.20) scale(1.0274,1)" font-size="26.5">1: +PI(3,5)P</text>
<text transform="translate(582.88,241.10) scale(1.0884,1)" font-size="18.78">2</text>
<text transform="translate(434.01,271.10) scale(1.0462,1)" font-size="26.5">2: +PI(3,5)P</text>
<text transform="translate(582.88,278.60) scale(1.0884,1)" font-size="18.78">2</text>
<text transform="translate(602.02,271.10) scale(1.0423,1)" font-size="26.5">+ Nar</text>
<text transform="translate(434.16,308.50) scale(1.0485,1)" font-size="26.5">3: control +Nar</text>
<text transform="translate(433.57,340.50) scale(1.0519,1)" font-size="26.5">4: control</text>
<text transform="translate(94.78,282.00) scale(1.1790,1)" font-size="34.3">2</text>
<text transform="translate(96.22,399.10) scale(1.0807,1)" font-size="34.3">0</text>
<text transform="translate(85.70,518.40) scale(1.0337,1)" font-size="34.3">-2</text>
<text transform="translate(42.40,462.83) rotate(-90) scale(0.9980,1)" font-size="35">I(nA)</text>
<text transform="translate(346.44,250.60) scale(1.0383,1)" font-size="26.5">1</text>
<text transform="translate(343.27,322.20) scale(1.1528,1)" font-size="26.5">2</text>
<text transform="translate(330.06,369.00) scale(1.0479,1)" font-size="26.5">3, 4</text>
<text transform="translate(166.55,440.50) scale(1.0597,1)" font-size="26.5">3, 4</text>
<text transform="translate(183.68,511.30) scale(1.2192,1)" font-size="26.5">2</text>
<text transform="translate(186.34,611.80) scale(1.0383,1)" font-size="26.5">1</text>
<text transform="translate(563.46,433.20) scale(1.0479,1)" font-size="26.5">3, 4</text>
<text transform="translate(580.24,493.10) scale(1.1777,1)" font-size="26.5">2</text>
<text transform="translate(582.84,568.70) scale(1.0383,1)" font-size="26.5">1</text>
<text transform="translate(524.48,654.50) scale(1.0526,1)" font-size="26.5">500 ms</text>
<text transform="translate(176.76,747.10) scale(0.9881,1)" font-size="34.3">100</text>
<text transform="translate(194.19,930.70) scale(1.0278,1)" font-size="34.3">50</text>
<text transform="translate(213.51,1113.50) scale(1.0135,1)" font-size="34.3">0</text>
<text transform="translate(161.70,1054.26) rotate(-90) scale(1.0416,1)" font-size="33.3">Nar inhibition (%)</text>
<text transform="translate(284.83,1147.00) scale(0.9951,1)" font-size="34.3">40 mV</text>
<text transform="translate(412.08,1147.00) scale(0.9870,1)" font-size="34.3">-40 mV</text>
</g>
</g>
</svg>
</body></html>
